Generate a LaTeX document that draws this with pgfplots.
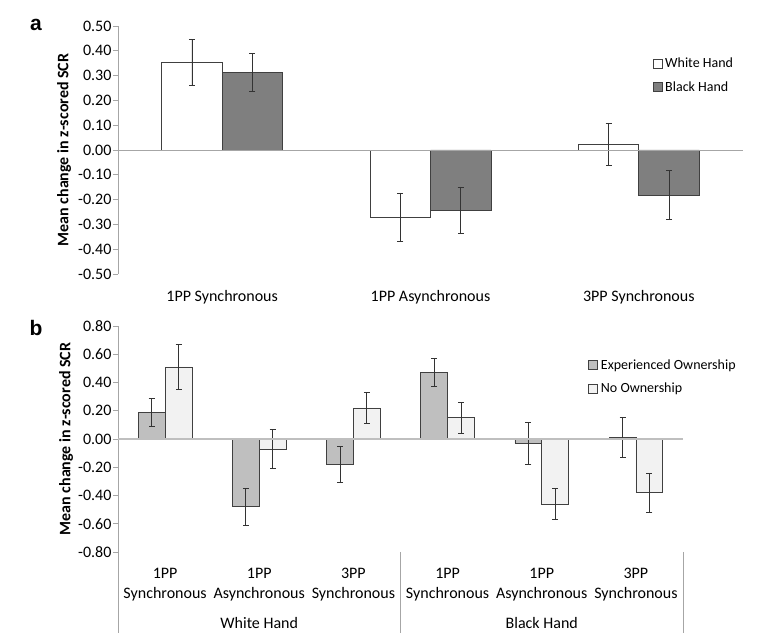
\documentclass[border=0pt]{standalone}
\usepackage{pgfplots}
\pgfplotsset{compat=1.18}
\usepackage{fontspec}
\setmainfont{Carlito}
\newfontfamily\panelfont{Liberation Sans}
\definecolor{axgray}{HTML}{A6A6A6}
\definecolor{zgray}{HTML}{BFBFBF}
\definecolor{edge}{HTML}{404040}
\definecolor{darkfill}{HTML}{7F7F7F}
\definecolor{midfill}{HTML}{BFBFBF}
\definecolor{lightfill}{HTML}{F2F2F2}
\pgfplotsset{
  boxlegend/.style={legend image code/.code={\draw[##1, line width=0.6pt] (0pt,-4.5pt) rectangle (9pt,4.5pt); \path (11pt,0pt);}},
  common/.style={
    scale only axis,
    axis y line*=left,
    axis x line*=bottom,
    x axis line style={draw=none},
    y axis line style={axgray, line width=0.8pt},
    ytick style={axgray, line width=0.8pt},
    xtick style={draw=none},
    tick align=outside,
    major tick length=5pt,
    /pgf/number format/assume math mode=true,
    /pgf/number format/.cd, fixed, fixed zerofill, precision=2, /pgfplots/.cd,
    yticklabel style={font=\fontsize{16}{19}\selectfont, xshift=2pt},
    ylabel style={font=\fontsize{16}{19}\selectfont\bfseries, anchor=center},
    legend style={draw=none, fill=none, font=\fontsize{14}{17}\selectfont, row sep=10pt, inner sep=0pt, nodes={inner sep=1pt}},
    legend cell align=left,
    error bars/y dir=both, error bars/y explicit,
    error bars/error bar style={black!80, line width=0.7pt},
    error bars/error mark options={rotate=90, mark size=3pt, black!80, line width=0.7pt},
  }
}
\begin{document}
\begin{tikzpicture}
\useasboundingbox (0,0) rectangle (762pt,639pt);
\node[font=\panelfont\fontsize{21}{24}\selectfont\bfseries] at (36pt,614pt) {a};
\node[font=\panelfont\fontsize{21}{24}\selectfont\bfseries] at (36pt,311pt) {b};
% ---------- panel a ----------
\begin{axis}[common,
  at={(118pt,365pt)}, anchor=south west,
  width=625pt, height=248pt,
  xmin=-0.5, xmax=2.5, ymin=-0.5, ymax=0.5,
  ytick={-0.5,-0.4,...,0.51},
  xtick={0,1,2},
  xticklabels={1PP Synchronous,1PP Asynchronous,3PP Synchronous},
  xticklabel style={font=\fontsize{16}{19}\selectfont, anchor=base, yshift=-23pt},
  ylabel={Mean change in z-scored SCR},
  ylabel style={at={(axis description cs:-0.0864,0.5)}},
  ybar, bar width=0.29,
  legend style={at={(axis description cs:0.855,0.875)}, anchor=north west},
]
\addplot[draw=edge, fill=white, line width=0.7pt, bar shift=-0.145, boxlegend]
  coordinates {(0,0.355) +- (0,0.093) (1,-0.270) +- (0,0.097) (2,0.024) +- (0,0.085)};
\addplot[draw=edge, fill=darkfill, line width=0.7pt, bar shift=0.145, boxlegend]
  coordinates {(0,0.314) +- (0,0.077) (1,-0.242) +- (0,0.093) (2,-0.181) +- (0,0.100)};
\legend{White Hand, Black Hand}
\draw[axgray, line width=0.8pt] (axis cs:-0.5,0) -- (axis cs:2.5,0);
\end{axis}
% ---------- panel b ----------
\begin{axis}[common,
  at={(118pt,87pt)}, anchor=south west,
  width=565pt, height=226pt,
  xmin=-0.5, xmax=5.5, ymin=-0.8, ymax=0.8,
  ytick={-0.8,-0.6,...,0.81},
  xtick={0,1,2,3,4,5},
  xticklabels={1PP\\Synchronous,1PP\\Asynchronous,3PP\\Synchronous,1PP\\Synchronous,1PP\\Asynchronous,3PP\\Synchronous},
  xticklabel style={font=\fontsize{16}{20}\selectfont, align=center, anchor=north, inner sep=0pt, yshift=-11pt},
  ylabel={Mean change in z-scored SCR},
  ylabel style={at={(axis description cs:-0.092,0.5)}},
  ybar, bar width=0.285,
  legend style={at={(axis description cs:0.832,0.857)}, anchor=north west},
  clip=false,
]
\addplot[draw=edge, fill=midfill, line width=0.7pt, bar shift=-0.1425, boxlegend]
  coordinates {(0,0.19) +- (0,0.10) (1,-0.48) +- (0,0.13) (2,-0.18) +- (0,0.13)
               (3,0.47) +- (0,0.10) (4,-0.03) +- (0,0.15) (5,0.01) +- (0,0.14)};
\addplot[draw=edge, fill=lightfill, line width=0.7pt, bar shift=0.1425, boxlegend]
  coordinates {(0,0.51) +- (0,0.16) (1,-0.07) +- (0,0.14) (2,0.22) +- (0,0.11)
               (3,0.15) +- (0,0.11) (4,-0.46) +- (0,0.11) (5,-0.38) +- (0,0.14)};
\legend{Experienced Ownership, No Ownership}
\draw[zgray, line width=1.5pt] (axis cs:-0.5,0) -- (axis cs:5.5,0);
\draw[axgray, line width=0.8pt] (axis cs:-0.5,-0.8) -- ([yshift=-81pt]axis cs:-0.5,-0.8);
\draw[axgray, line width=0.8pt] (axis cs:2.5,-0.8) -- ([yshift=-81pt]axis cs:2.5,-0.8);
\draw[axgray, line width=0.8pt] (axis cs:5.5,-0.8) -- ([yshift=-81pt]axis cs:5.5,-0.8);
\node[font=\fontsize{16}{19}\selectfont] at ([yshift=-71pt]axis cs:1,-0.8) {White Hand};
\node[font=\fontsize{16}{19}\selectfont] at ([yshift=-71pt]axis cs:4,-0.8) {Black Hand};
\end{axis}
\end{tikzpicture}
\end{document}
